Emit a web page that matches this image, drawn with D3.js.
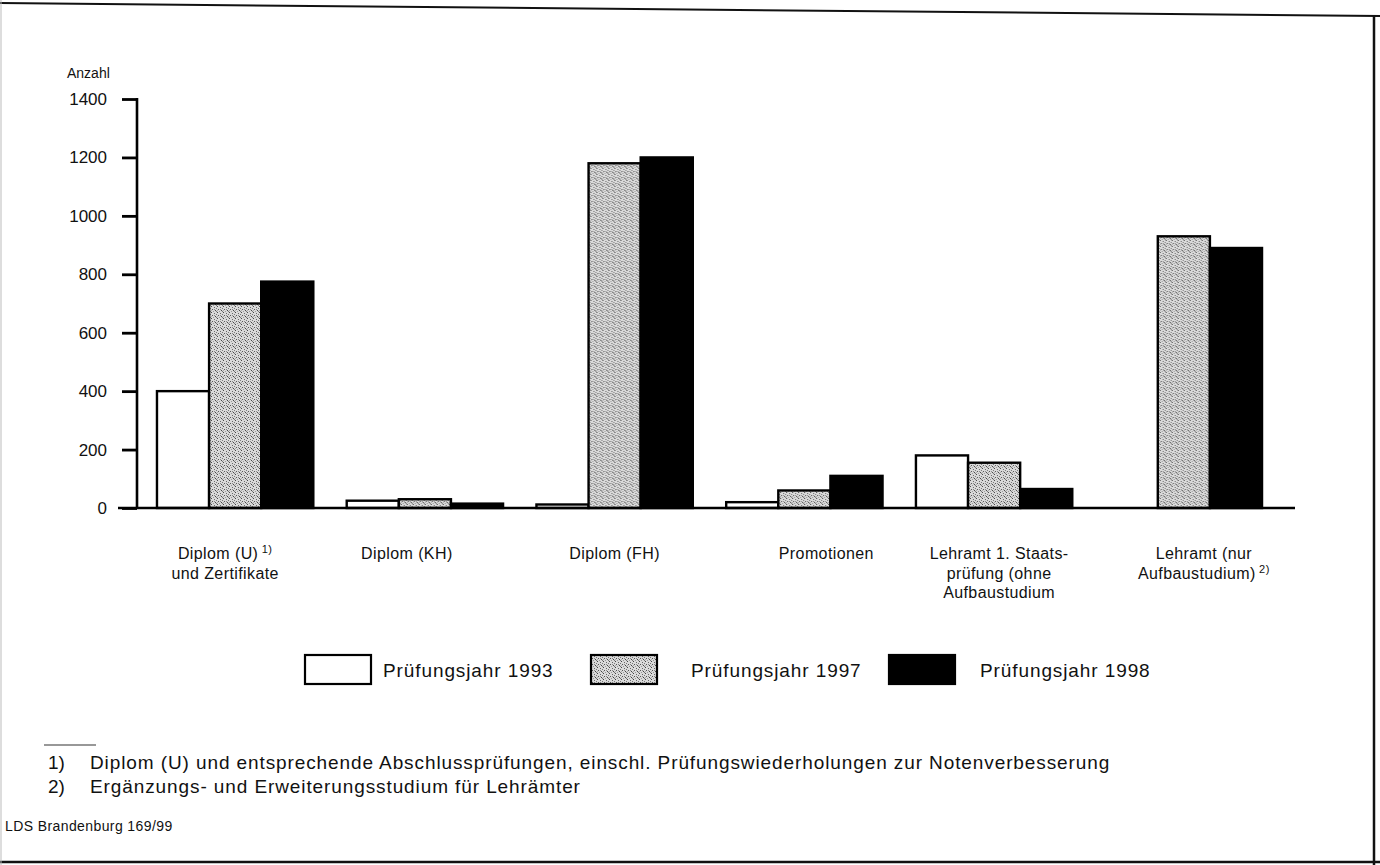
<!DOCTYPE html>
<html>
<head>
<meta charset="utf-8">
<script src="https://cdn.jsdelivr.net/npm/d3@7"></script>
<style>
  body { margin: 0; background: #fff; }
  svg { display: block; font-family: "Liberation Sans", Arial, sans-serif; }
</style>
</head>
<body>
<div id="chart"></div>
<script>
// Categories (^ marks a footnote superscript)
const categories = ["Diplom (U)", "Diplom (KH)", "Diplom (FH)", "Promotionen", "Lehramt 1. Staatsprüfung", "Lehramt (nur Aufbaustudium)"];
const labelLines = [
  ["Diplom (U)^1)", "und Zertifikate"],
  ["Diplom (KH)"],
  ["Diplom (FH)"],
  ["Promotionen"],
  ["Lehramt 1. Staats-", "prüfung (ohne", "Aufbaustudium"],
  ["Lehramt (nur", "Aufbaustudium)^2)"]
];

const seriesNames = ["Prüfungsjahr 1993", "Prüfungsjahr 1997", "Prüfungsjahr 1998"];
const values1993 = [400, 25, 12, 20, 180, 0];
const values1997 = [700, 30, 1180, 60, 155, 930];
const values1998 = [775, 15, 1200, 110, 65, 890];

const yTicks = [0, 200, 400, 600, 800, 1000, 1200, 1400];
const yTitle = "Anzahl";

const footnotes = [
  ["1)", "Diplom (U) und entsprechende Abschlussprüfungen, einschl. Prüfungswiederholungen zur Notenverbesserung"],
  ["2)", "Ergänzungs- und Erweiterungsstudium für Lehrämter"]
];
const sourceNote = "LDS Brandenburg 169/99";

(function() {
  const W = 1380, H = 865;
  const svg = d3.select("#chart").append("svg")
    .attr("width", W)
    .attr("height", H);

  // stipple pattern for the 1997 bars
  const defs = svg.append("defs");
  const pat = defs.append("pattern")
    .attr("id", "stipple")
    .attr("patternUnits", "userSpaceOnUse")
    .attr("width", 6)
    .attr("height", 6);
  pat.append("rect").attr("width", 6).attr("height", 6).attr("fill", "#dadada");
  [[0, 0, "#444"], [3, 1, "#666"], [1, 3, "#555"], [4, 4, "#444"], [2, 5, "#999"], [5, 2, "#777"], [0, 4, "#aaa"], [3, 3, "#888"], [5, 5, "#777"]]
    .forEach(([x, y, c]) => pat.append("rect").attr("x", x).attr("y", y).attr("width", 1).attr("height", 1).attr("fill", c));

  const fills = ["#fff", "url(#stipple)", "#000"];

  // frame of the scanned page
  svg.append("line").attr("x1", 0).attr("y1", 3).attr("x2", W).attr("y2", 16)
    .attr("stroke", "#111").attr("stroke-width", 2);
  svg.append("line").attr("x1", 1374).attr("y1", 16).attr("x2", 1374).attr("y2", H)
    .attr("stroke", "#111").attr("stroke-width", 2.5);
  svg.append("line").attr("x1", 0).attr("y1", 862).attr("x2", W).attr("y2", 862)
    .attr("stroke", "#111").attr("stroke-width", 2.5);
  svg.append("line").attr("x1", 1).attr("y1", 0).attr("x2", 1).attr("y2", H)
    .attr("stroke", "#bbb").attr("stroke-width", 1);

  // scales
  const x0 = d3.scaleBand()
    .domain(categories)
    .range([138, 1281])
    .paddingInner(0.176)
    .paddingOuter(0.1);

  const x1 = d3.scaleBand()
    .domain(seriesNames)
    .range([0, x0.bandwidth()]);

  const y = d3.scaleLinear()
    .domain([0, 1400])
    .range([508, 99]);

  const table = categories.map((c, i) => ({
    category: c,
    values: [values1993[i], values1997[i], values1998[i]]
  }));

  // bars
  const groups = svg.selectAll("g.group")
    .data(table)
    .enter()
    .append("g")
    .attr("class", "group")
    .attr("transform", d => `translate(${x0(d.category)},0)`);

  groups.selectAll("rect")
    .data(d => d.values.map((v, k) => ({ series: seriesNames[k], value: v, k })).filter(e => e.value > 0))
    .enter()
    .append("rect")
    .attr("x", d => x1(d.series))
    .attr("y", d => y(d.value))
    .attr("width", x1.bandwidth())
    .attr("height", d => y(0) - y(d.value))
    .attr("fill", d => fills[d.k])
    .attr("stroke", "#000")
    .attr("stroke-width", 2.4);

  // y axis
  const yAxis = svg.append("g")
    .attr("transform", "translate(137,0)")
    .call(d3.axisLeft(y).tickValues(yTicks).tickSize(15).tickPadding(15).tickFormat(d3.format("d")));
  yAxis.select(".domain").remove();
  yAxis.selectAll(".tick line").attr("stroke", "#000").attr("stroke-width", 2.8);
  yAxis.selectAll(".tick text")
    .attr("fill", "#111")
    .style("font-size", "17px")
    .style("font-family", "'Liberation Sans', Arial, sans-serif");

  svg.append("line")
    .attr("x1", 137).attr("x2", 137)
    .attr("y1", y(1400) - 1).attr("y2", y(0))
    .attr("stroke", "#000").attr("stroke-width", 2.6);

  // x axis baseline
  svg.append("line")
    .attr("x1", 118).attr("x2", 1295)
    .attr("y1", y(0)).attr("y2", y(0))
    .attr("stroke", "#000").attr("stroke-width", 2.6);

  svg.append("text")
    .attr("x", 67)
    .attr("y", 78)
    .style("font-size", "14px")
    .attr("fill", "#111")
    .text(yTitle);

  // category labels (hand placed in the original, nudged from band centre)
  const nudge = [-10, -18, 0, 22, 5, 20];
  const lab = svg.selectAll("text.cat")
    .data(table)
    .enter()
    .append("text")
    .attr("class", "cat")
    .attr("text-anchor", "middle")
    .attr("fill", "#111")
    .style("font-size", "16px")
    .style("letter-spacing", "0.4px");

  lab.each(function(d, i) {
    const t = d3.select(this);
    const cx = x0(d.category) + x0.bandwidth() / 2 + nudge[i];
    labelLines[i].forEach((line, li) => {
      const parts = line.split("^");
      t.append("tspan")
        .attr("x", cx)
        .attr("y", 559 + li * 19.5)
        .text(parts[0]);
      if (parts[1]) {
        t.append("tspan")
          .attr("dy", -6)
          .style("font-size", "11px")
          .text(" " + parts[1]);
      }
    });
  });

  // legend
  const legendX = [305, 591, 889];
  const legendTextX = [78, 100, 91];
  const legend = svg.selectAll("g.legend")
    .data(seriesNames)
    .enter()
    .append("g")
    .attr("class", "legend")
    .attr("transform", (d, i) => `translate(${legendX[i]},655)`);

  legend.append("rect")
    .attr("width", 66)
    .attr("height", 29)
    .attr("fill", (d, i) => fills[i])
    .attr("stroke", "#000")
    .attr("stroke-width", 2.2);

  legend.append("text")
    .attr("x", (d, i) => legendTextX[i])
    .attr("y", 22)
    .attr("fill", "#111")
    .style("font-size", "19px")
    .style("letter-spacing", "0.9px")
    .text(d => d);

  // footnotes
  svg.append("line")
    .attr("x1", 44).attr("x2", 96)
    .attr("y1", 745).attr("y2", 745)
    .attr("stroke", "#333").attr("stroke-width", 1.2);

  footnotes.forEach((f, i) => {
    svg.append("text")
      .attr("x", 48).attr("y", 769 + i * 24)
      .attr("fill", "#111")
      .style("font-size", "19px")
      .text(f[0]);
    svg.append("text")
      .attr("x", 90).attr("y", 769 + i * 24)
      .attr("fill", "#111")
      .style("font-size", "19px")
      .style("letter-spacing", "0.9px")
      .text(f[1]);
  });

  svg.append("text")
    .attr("x", 5).attr("y", 831)
    .attr("fill", "#111")
    .style("font-size", "14px")
    .style("letter-spacing", "0.4px")
    .text(sourceNote);
})();
</script>
</body>
</html>
